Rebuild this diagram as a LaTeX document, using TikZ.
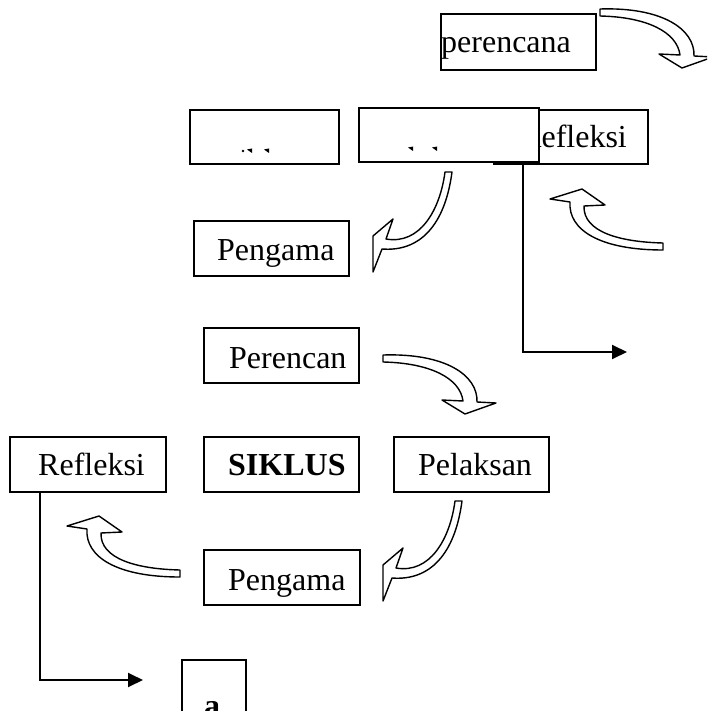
\documentclass[tikz,border=0pt]{standalone}
\usepackage{fontspec}
\setmainfont{Liberation Serif}
\usetikzlibrary{arrows.meta}
\tikzset{
  boxn/.style={draw, line width=1.9pt, fill=white, rectangle, inner sep=0pt, anchor=north west},
  txt/.style={anchor=base west, inner sep=0pt, font=\fontsize{32}{38}\selectfont},
  conn/.style={line width=1.9pt, -{Triangle[length=15pt,width=14pt]}},
  blk/.style={draw, fill=white, line width=1.4pt, line join=round},
  mk/.style={fill=black},
  pics/curveDR/.style={code={
    \path[blk] (0,0) .. controls (62,-2) and (95,20) .. (94,47) -- (113,48) -- (82,59) -- (59,45) -- (80,46)
      .. controls (77,23) and (47,8) .. (0,7) -- cycle;}},
  pics/curveDL/.style={code={
    \path[blk] (0,0) -- (7,0) .. controls (0,53) and (-25,80) .. (-63,77) -- (-72,100) -- (-72,64) -- (-52,47) -- (-59,67)
      .. controls (-25,73) and (-5,38) .. (0,0) -- cycle;}},
  pics/curveUL/.style={code={
    \path[blk] (0,0) -- (0,7) .. controls (-63,7) and (-95,-13) .. (-93,-41) -- (-113,-44) -- (-81,-54) -- (-58,-38) -- (-79,-37)
      .. controls (-80,-11) and (-43,-1) .. (0,0) -- cycle;}},
}
\begin{document}
\begin{tikzpicture}[x=1pt,y=-1pt]
\useasboundingbox (0,0) rectangle (707,711);
\clip (0,0) rectangle (707,711);

% row 1
\node[boxn, minimum width=155pt, minimum height=56pt] (pa) at (440,13) {};
\node[txt] (tpa) at (441,53) {perencana};
\pic (a1) at (600,9) {curveDR};

% row 2
\node[boxn, minimum width=149pt, minimum height=54pt] (ba) at (189,109) {};
\fill[mk] (243,151) circle (1.3);
\fill[mk] (247,149.5) -- (252,148.5) -- (252,153) -- cycle;
\fill[mk] (264,149.5) -- (269,148.5) -- (269,153) -- cycle;
\node[boxn, minimum width=154pt, minimum height=54pt] (r1) at (493,109) {};
\node[txt] (tr1) at (520,148) {Refleksi};
\node[boxn, minimum width=180pt, minimum height=54pt] (bb) at (358,107) {};
\fill[mk] (408,147.5) -- (413,146.5) -- (413,151) -- cycle;
\fill[mk] (432,147.5) -- (437,146.5) -- (437,151) -- cycle;

\coordinate (e1) at (627,352);
\draw[conn] ([xshift=30pt]r1.south west) |- (e1);
\pic (a3) at (663,243) {curveUL};
\pic (a2) at (445,172) {curveDL};

% row 3
\node[boxn, minimum width=155pt, minimum height=55pt] (pg1) at (193,220) {};
\node[txt] (tpg1) at (217,260) {Pengama};

% row 4
\node[boxn, minimum width=155pt, minimum height=55pt] (pc) at (203,327) {};
\node[txt] (tpc) at (229,368) {Perencan};
\pic (a4) at (383,355) {curveDR};

% row 5
\node[boxn, minimum width=156pt, minimum height=55pt] (r2) at (9,436) {};
\node[txt] (tr2) at (38,475) {Refleksi};
\node[boxn, minimum width=155pt, minimum height=55pt] (sk) at (203,436) {};
\node[txt] (tsk) at (228,475) {\textbf{SIKLUS}};
\node[boxn, minimum width=155pt, minimum height=55pt] (pl) at (393,436) {};
\node[txt] (tpl) at (418,475) {Pelaksan};

% row 6
\pic (a5) at (455,501) {curveDL};
\pic (a6) at (180,570) {curveUL};
\node[boxn, minimum width=156pt, minimum height=55pt] (pg2) at (203,549) {};
\node[txt] (tpg2) at (228,590) {Pengama};

% bottom
\coordinate (e2) at (143,680);
\draw[conn] ([xshift=31pt]r2.south west) |- (e2);
\node[boxn, minimum width=64pt, minimum height=70pt] (ab) at (181,659) {};
\node[txt] (tab) at (204,716) {\textbf{a}};
\end{tikzpicture}
\end{document}
